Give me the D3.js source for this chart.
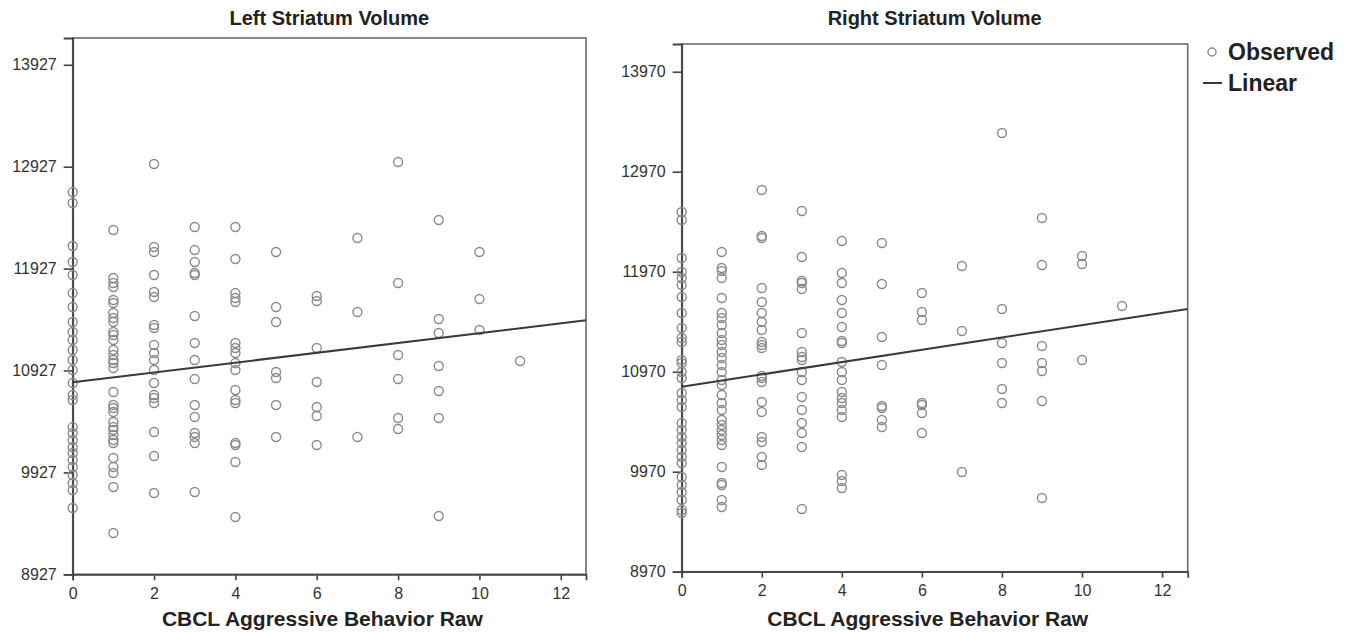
<!DOCTYPE html>
<meta charset="utf-8">
<script src="https://d3js.org/d3.v7.min.js"></script>
<style>
  body { margin: 0; background: #fff; }
  text { font-family: "Liberation Sans", Arial, sans-serif; }
</style>
<div id="my_dataviz"></div>
<script>
    // tick labels
    var xTicks = [0, 2, 4, 6, 8, 10, 12];
    var leftTicks = [8927, 9927, 10927, 11927, 12927, 13927];
    var rightTicks = [8970, 9970, 10970, 11970, 12970, 13970];

    // observed volumes, one list per CBCL score (0..11)
    var leftCols = [
        [12678, 12571, 12149, 11992, 11864, 11687, 11550, 11403, 11305, 11226, 11128, 11030, 10932, 10804, 10686, 10637, 10372, 10314, 10245, 10176, 10117, 10049, 9980, 9901, 9823, 9754, 9578],
        [12306, 11835, 11786, 11746, 11619, 11589, 11491, 11442, 11403, 11305, 11275, 11226, 11128, 11079, 11030, 11000, 10951, 10716, 10588, 10559, 10520, 10422, 10372, 10343, 10294, 10245, 10215, 10068, 9980, 9921, 9784, 9332],
        [12953, 12139, 12090, 11864, 11697, 11648, 11373, 11344, 11177, 11099, 11030, 10932, 10804, 10686, 10657, 10608, 10323, 10088, 9725],
        [12335, 12109, 11992, 11884, 11864, 11462, 11197, 11030, 10843, 10588, 10471, 10314, 10274, 10215, 9735],
        [12335, 12021, 11687, 11638, 11599, 11197, 11148, 11099, 11000, 10932, 10736, 10637, 10608, 10215, 10196, 10029, 9489],
        [12090, 11550, 11403, 10912, 10853, 10588, 10274],
        [11658, 11609, 11148, 10814, 10569, 10480, 10196],
        [12227, 11501, 10274],
        [12973, 11786, 11079, 10843, 10461, 10353],
        [12404, 11432, 11295, 10971, 10726, 10461, 9499],
        [12090, 11629, 11324],
        [11020]
    ];
    var rightCols = [
        [12567, 12487, 12107, 11967, 11907, 11837, 11717, 11557, 11407, 11307, 11267, 11087, 11057, 10967, 10907, 10757, 10687, 10617, 10457, 10387, 10317, 10257, 10187, 10117, 10057, 9917, 9837, 9767, 9687, 9587, 9557],
        [12167, 12007, 11977, 11907, 11707, 11557, 11507, 11437, 11357, 11287, 11237, 11167, 11107, 11037, 10967, 10887, 10837, 10737, 10657, 10587, 10487, 10437, 10387, 10337, 10287, 10237, 10017, 9857, 9837, 9687, 9617],
        [12787, 12327, 12307, 11807, 11667, 11557, 11467, 11387, 11267, 11237, 11207, 10927, 10907, 10867, 10667, 10567, 10317, 10267, 10117, 10037],
        [12577, 12117, 11877, 11857, 11797, 11357, 11167, 11117, 11087, 10967, 10887, 10717, 10587, 10457, 10357, 10217, 9597],
        [12277, 11957, 11857, 11687, 11557, 11417, 11277, 11257, 11067, 10967, 10887, 10767, 10707, 10657, 10587, 10517, 9937, 9877, 9807],
        [12257, 11847, 11317, 11037, 10627, 10607, 10487, 10417],
        [11757, 11567, 11487, 10657, 10637, 10557, 10357],
        [12027, 11377, 9967],
        [13357, 11597, 11257, 11057, 10797, 10657],
        [12507, 12037, 11227, 11057, 10977, 10677, 9707],
        [12127, 12047, 11087],
        [11627]
    ];

    // linear fit: intercept, slope
    var leftFit = [10811, 48.3];
    var rightFit = [10820, 61.5];

    var svg = d3.select("#my_dataviz")
        .append("svg")
        .attr("width", 1354)
        .attr("height", 635);

    function drawPanel(p) {
        var x = d3.scaleLinear().domain([0, p.xMax]).range([p.left, p.right]);
        var y = d3.scaleLinear().domain([p.yMin, p.yMax]).range([p.bottom, p.top]);

        var pts = [];
        p.cols.forEach(function(col, i) {
            col.forEach(function(v) { pts.push({x: i, y: v}); });
        });

        // frame
        svg.append("rect")
            .attr("x", p.left).attr("y", p.top)
            .attr("width", p.right - p.left).attr("height", p.bottom - p.top)
            .attr("fill", "none").attr("stroke", "#6a6a6a").attr("stroke-width", 1.6);

        // axes
        var ax = svg.append("g")
            .attr("transform", "translate(0," + p.bottom + ")")
            .call(d3.axisBottom(x).tickValues(xTicks).tickSize(6).tickPadding(7));
        var ay = svg.append("g")
            .attr("transform", "translate(" + p.left + ",0)")
            .call(d3.axisLeft(y).tickValues(p.ticks).tickFormat(d3.format("d")).tickSize(9).tickPadding(7));
        [ax, ay].forEach(function(g) {
            g.select(".domain").attr("stroke", "#444").attr("stroke-width", 1.8);
            g.selectAll(".tick line").attr("stroke", "#444").attr("stroke-width", 1.6);
            g.selectAll(".tick text").attr("fill", "#333").style("font-size", "16px")
                .style("font-family", "'Liberation Sans', Arial, sans-serif");
        });

        // points
        svg.append("g").selectAll("circle")
            .data(pts)
            .enter()
            .append("circle")
            .attr("cx", function(d) { return x(d.x); })
            .attr("cy", function(d) { return y(d.y); })
            .attr("r", 4.5)
            .attr("fill", "none")
            .attr("stroke", "#8a8a8a")
            .attr("stroke-width", 1.4);

        // fit line
        svg.append("line")
            .attr("x1", x(0)).attr("y1", y(p.fit[0]))
            .attr("x2", x(p.xMax)).attr("y2", y(p.fit[0] + p.fit[1] * p.xMax))
            .attr("stroke", "#3a3a3a").attr("stroke-width", 2);

        // titles
        svg.append("text")
            .attr("x", (p.left + p.right) / 2).attr("y", 25)
            .attr("text-anchor", "middle")
            .style("font-size", "20px").style("font-weight", "bold").attr("fill", "#222")
            .text(p.title);
        svg.append("text")
            .attr("x", (p.left + p.right) / 2 - 7).attr("y", 626)
            .attr("text-anchor", "middle")
            .style("font-size", "21px").style("font-weight", "bold").attr("fill", "#222")
            .text("CBCL Aggressive Behavior Raw");
    }

    drawPanel({
        title: "Left Striatum Volume", cols: leftCols, ticks: leftTicks, fit: leftFit,
        left: 72.7, right: 586, top: 38, bottom: 574.3,
        xMax: 12.62, yMin: 8927, yMax: 14190
    });
    drawPanel({
        title: "Right Striatum Volume", cols: rightCols, ticks: rightTicks, fit: rightFit,
        left: 681.7, right: 1187.7, top: 44, bottom: 571.7,
        xMax: 12.64, yMin: 8970, yMax: 14247
    });

    // legend
    var lg = svg.append("g");
    lg.append("circle").attr("cx", 1212).attr("cy", 52).attr("r", 4)
        .attr("fill", "none").attr("stroke", "#8a8a8a").attr("stroke-width", 1.4);
    lg.append("text").attr("x", 1228).attr("y", 60)
        .style("font-size", "23px").style("font-weight", "bold").attr("fill", "#222").text("Observed");
    lg.append("line").attr("x1", 1203).attr("x2", 1222).attr("y1", 83).attr("y2", 83)
        .attr("stroke", "#3a3a3a").attr("stroke-width", 2);
    lg.append("text").attr("x", 1228).attr("y", 91)
        .style("font-size", "23px").style("font-weight", "bold").attr("fill", "#222").text("Linear");
</script>
